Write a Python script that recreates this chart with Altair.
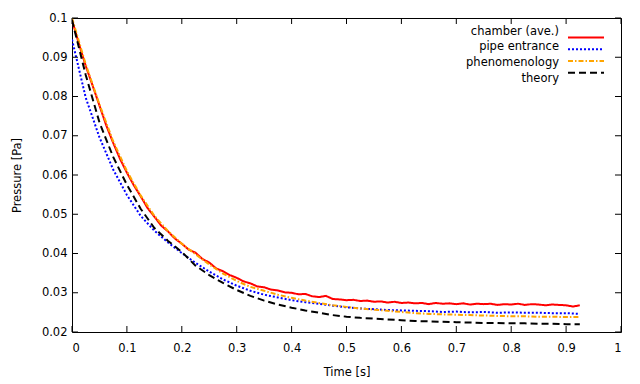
import altair as alt
import pandas as pd

SERIES = ["chamber (ave.)", "pipe entrance", "phenomenology", "theory"]
COLORS = ["#ff0000", "#0000ff", "#ffa500", "#000000"]
DASHES = [[1, 0], [2, 2], [5, 2, 1.5, 2], [7, 4]]
WIDTHS = [2, 2, 1.5, 1.5]

t_chamber = [0.0, 0.0125, 0.025, 0.0375, 0.05, 0.0625, 0.075, 0.0875, 0.1, 0.1125,
             0.125, 0.1375, 0.15, 0.1625, 0.175, 0.1875, 0.2, 0.2125, 0.225, 0.2375,
             0.25, 0.2625, 0.275, 0.2875, 0.3, 0.3125, 0.325, 0.3375, 0.35, 0.3625,
             0.375, 0.3875, 0.4, 0.4125, 0.425, 0.4375, 0.45, 0.4625, 0.475, 0.4875,
             0.5, 0.5125, 0.525, 0.5375, 0.55, 0.5625, 0.575, 0.5875, 0.6, 0.6125,
             0.625, 0.6375, 0.65, 0.6625, 0.675, 0.6875, 0.7, 0.7125, 0.725, 0.7375,
             0.75, 0.7625, 0.775, 0.7875, 0.8, 0.8125, 0.825, 0.8375, 0.85, 0.8625,
             0.875, 0.8875, 0.9, 0.9125, 0.925]
p_chamber = [0.0995, 0.0935, 0.0878, 0.0828, 0.0777, 0.0726, 0.0682, 0.0641, 0.0606, 0.0574,
             0.0546, 0.0516, 0.0494, 0.0471, 0.0456, 0.0438, 0.0425, 0.0410, 0.0402, 0.0386,
             0.0377, 0.0362, 0.0355, 0.0345, 0.0338, 0.0329, 0.0324, 0.0316, 0.0314, 0.0308,
             0.0306, 0.0301, 0.0300, 0.0296, 0.0297, 0.0291, 0.0289, 0.0292, 0.0284, 0.0283,
             0.0281, 0.0282, 0.0279, 0.0280, 0.0277, 0.0278, 0.0275, 0.0277, 0.0274, 0.0275,
             0.0273, 0.0274, 0.0271, 0.0274, 0.0272, 0.0273, 0.0271, 0.0273, 0.0270, 0.0272,
             0.0271, 0.0272, 0.0269, 0.0271, 0.0270, 0.0272, 0.0269, 0.0271, 0.0270, 0.0268,
             0.0270, 0.0269, 0.0268, 0.0265, 0.0268]

t_model = [0.0, 0.025, 0.05, 0.075, 0.1, 0.125, 0.15, 0.175, 0.2, 0.225,
           0.25, 0.275, 0.3, 0.325, 0.35, 0.375, 0.4, 0.425, 0.45, 0.475,
           0.5, 0.525, 0.55, 0.575, 0.6, 0.625, 0.65, 0.675, 0.7, 0.725,
           0.75, 0.775, 0.8, 0.825, 0.85, 0.875, 0.9, 0.925]
p_pipe = [0.0945, 0.0797, 0.0696, 0.0614, 0.0549, 0.0496, 0.0458, 0.0428, 0.0401, 0.0376,
          0.0354, 0.0334, 0.0318, 0.0305, 0.0295, 0.0288, 0.0281, 0.0276, 0.0272, 0.0267,
          0.0263, 0.0260, 0.0258, 0.0256, 0.0255, 0.0254, 0.0253, 0.0251, 0.0252, 0.0250,
          0.0251, 0.0249, 0.0250, 0.0249, 0.0249, 0.0248, 0.0248, 0.0246]
p_phen = [0.1000, 0.0882, 0.0780, 0.0686, 0.0610, 0.0548, 0.0496, 0.0457, 0.0425, 0.0398,
          0.0372, 0.0349, 0.0330, 0.0315, 0.0305, 0.0295, 0.0287, 0.0280, 0.0274, 0.0268,
          0.0264, 0.0260, 0.0257, 0.0254, 0.0251, 0.0248, 0.0246, 0.0245, 0.0244, 0.0243,
          0.0242, 0.0241, 0.0240, 0.0240, 0.0239, 0.0239, 0.0238, 0.0238]
p_theory = [0.0995, 0.0855, 0.0734, 0.0646, 0.0575, 0.0514, 0.0465, 0.0432, 0.0404, 0.0369,
            0.0345, 0.0325, 0.0307, 0.0292, 0.0280, 0.0270, 0.0262, 0.0255, 0.0249, 0.0243,
            0.0239, 0.0236, 0.0234, 0.0232, 0.0230, 0.0228, 0.0227, 0.0226, 0.0225, 0.0224,
            0.0223, 0.0223, 0.0222, 0.0222, 0.0221, 0.0221, 0.0220, 0.0220]

X_TICKS = [0, 0.1, 0.2, 0.3, 0.4, 0.5, 0.6, 0.7, 0.8, 0.9, 1]
Y_TICKS = [0.02, 0.03, 0.04, 0.05, 0.06, 0.07, 0.08, 0.09, 0.1]

W, H = 549, 314
TL = 6
FONT = "DejaVu Sans"
FS = 11.5

rows = []
for t, p in zip(t_chamber, p_chamber):
    rows.append({"t": t, "p": p, "series": SERIES[0]})
for t, p in zip(t_model, p_pipe):
    rows.append({"t": t, "p": p, "series": SERIES[1]})
for t, p in zip(t_model, p_phen):
    rows.append({"t": t, "p": p, "series": SERIES[2]})
for t, p in zip(t_model, p_theory):
    rows.append({"t": t, "p": p, "series": SERIES[3]})
df = pd.DataFrame(rows)

xscale = alt.Scale(domain=[0, 1], nice=False, zero=False)
yscale = alt.Scale(domain=[0.02, 0.1], nice=False, zero=False)
cscale = alt.Scale(domain=SERIES, range=COLORS)
dscale = alt.Scale(domain=SERIES, range=DASHES)
wscale = alt.Scale(domain=SERIES, range=WIDTHS)

xaxis = alt.Axis(values=X_TICKS, format="~g", title="Time [s]", labelPadding=10, titlePadding=13)

lines = alt.Chart(df).mark_line(clip=True).encode(
    x=alt.X("t:Q", scale=xscale, axis=xaxis),
    y=alt.Y("p:Q", scale=yscale, axis=alt.Axis(values=Y_TICKS, format="~g", title="Pressure [Pa]",
                                               labelPadding=5, titlePadding=19)),
    color=alt.Color("series:N", scale=cscale, legend=None),
    strokeDash=alt.StrokeDash("series:N", scale=dscale, legend=None),
    strokeWidth=alt.StrokeWidth("series:N", scale=wscale, legend=None),
    order=alt.Order("t:Q"),
)

xt = pd.DataFrame({"t": X_TICKS})
yt = pd.DataFrame({"p": Y_TICKS})

bottom = alt.Chart(xt).mark_rule(color="black", strokeWidth=1).encode(
    x=alt.X("t:Q", scale=xscale, axis=xaxis), y=alt.value(H), y2=alt.value(H - TL))
top = alt.Chart(xt).mark_rule(color="black", strokeWidth=1).encode(
    x=alt.X("t:Q", scale=xscale, axis=xaxis), y=alt.value(0), y2=alt.value(TL))
left = alt.Chart(yt).mark_rule(color="black", strokeWidth=1).encode(
    y=alt.Y("p:Q", scale=yscale, axis=None), x=alt.value(0), x2=alt.value(TL))
right = alt.Chart(yt).mark_rule(color="black", strokeWidth=1).encode(
    y=alt.Y("p:Q", scale=yscale, axis=None), x=alt.value(W), x2=alt.value(W - TL))

# legend (labels left of line samples, as in gnuplot)
leg_df = pd.DataFrame({"series": SERIES})
lyscale = alt.Scale(domain=SERIES, range=[13.5, 60.5], padding=0)
leg_text = alt.Chart(leg_df).mark_text(
    align="right", baseline="middle", font=FONT, fontSize=FS, color="black"
).encode(
    x=alt.value(487), y=alt.Y("series:N", scale=lyscale, axis=None), text="series:N")
leg_line = alt.Chart(leg_df).mark_rule(strokeWidth=2).encode(
    x=alt.value(496), x2=alt.value(532),
    y=alt.Y("series:N", scale=lyscale, axis=None),
    color=alt.Color("series:N", scale=cscale, legend=None),
    strokeDash=alt.StrokeDash("series:N", scale=dscale, legend=None),
)

chart = alt.layer(lines, bottom, top, left, right, leg_text, leg_line).resolve_scale(
    y="independent"
).properties(
    width=W, height=H,
    autosize=alt.AutoSizeParams(type="none"),
    padding={"left": 64, "top": 10, "right": 11, "bottom": 52},
).configure_view(stroke="black", strokeWidth=1).configure_axis(
    grid=False, domain=False, ticks=False,
    labelFont=FONT, labelFontSize=FS, labelColor="black",
    titleFont=FONT, titleFontSize=FS, titleFontWeight="normal", titleColor="black",
)

chart.save("out.html", embed_options={"renderer": "svg", "actions": False})
